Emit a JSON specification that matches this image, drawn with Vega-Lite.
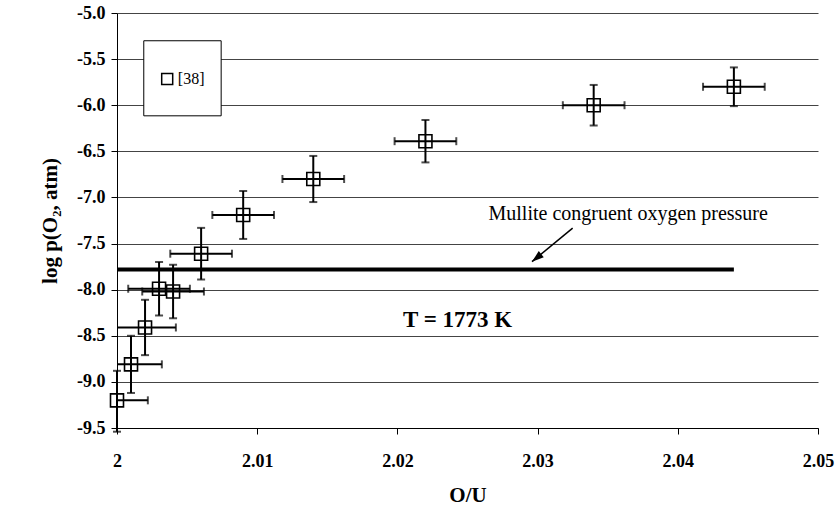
{
  "$schema": "https://vega.github.io/schema/vega-lite/v6.json",
  "width": 701,
  "height": 415,
  "autosize": "none",
  "padding": {"left": 117, "top": 13, "right": 20, "bottom": 84},
  "background": "white",
  "config": {
    "view": {"stroke": null},
    "axis": {
      "labelFont": "Liberation Serif", "labelFontWeight": "bold", "labelFontSize": 18, "labelColor": "black",
      "titleFont": "Liberation Serif", "titleFontWeight": "bold", "titleFontSize": 21, "titleColor": "black",
      "domainColor": "black", "tickColor": "black", "tickSize": 6, "domainWidth": 1, "tickWidth": 1
    }
  },
  "datasets": {
    "pts": [
      {"ou": 2.000, "lp": -9.20, "xlo": 1.9978, "xhi": 2.0022, "ylo": -9.54, "yhi": -8.88},
      {"ou": 2.001, "lp": -8.81, "xlo": 1.9988, "xhi": 2.0032, "ylo": -9.12, "yhi": -8.50},
      {"ou": 2.002, "lp": -8.41, "xlo": 1.9998, "xhi": 2.0042, "ylo": -8.71, "yhi": -8.11},
      {"ou": 2.003, "lp": -7.99, "xlo": 2.0008, "xhi": 2.0052, "ylo": -8.28, "yhi": -7.70},
      {"ou": 2.004, "lp": -8.02, "xlo": 2.0018, "xhi": 2.0062, "ylo": -8.31, "yhi": -7.73},
      {"ou": 2.006, "lp": -7.61, "xlo": 2.0038, "xhi": 2.0082, "ylo": -7.89, "yhi": -7.33},
      {"ou": 2.009, "lp": -7.19, "xlo": 2.0068, "xhi": 2.0112, "ylo": -7.45, "yhi": -6.93},
      {"ou": 2.014, "lp": -6.80, "xlo": 2.0118, "xhi": 2.0162, "ylo": -7.05, "yhi": -6.55},
      {"ou": 2.022, "lp": -6.39, "xlo": 2.0198, "xhi": 2.0242, "ylo": -6.62, "yhi": -6.16},
      {"ou": 2.034, "lp": -6.00, "xlo": 2.0318, "xhi": 2.0362, "ylo": -6.22, "yhi": -5.78},
      {"ou": 2.044, "lp": -5.80, "xlo": 2.0418, "xhi": 2.0462, "ylo": -6.01, "yhi": -5.59}
    ],
    "mullite": [{"x1": 2.0, "x2": 2.044, "y": -7.78}],
    "arrow": [{"xs": 2.0325, "ys": -7.333, "xt": 2.0296, "yt": -7.696, "xh": 2.03015, "yh": -7.629}],
    "labels": [
      {"x": 2.0265, "y": -7.244, "text": "Mullite congruent oxygen pressure", "kind": "note"},
      {"x": 2.0204, "y": -8.409, "text": "T = 1773 K", "kind": "temp"}
    ],
    "legend": [{"bx1": 2.00191, "bx2": 2.00743, "by1": -5.301, "by2": -6.115, "mx": 2.00358, "tx": 2.00434, "my": -5.717, "label": "[38]"}]
  },
  "layer": [
    {
      "data": {"name": "pts"},
      "mark": {"type": "point", "shape": "square", "size": 169, "filled": false, "stroke": "black", "strokeWidth": 1.6, "opacity": 1},
      "encoding": {
        "x": {"field": "ou", "type": "quantitative", "scale": {"domain": [2.0, 2.05], "nice": false, "zero": false},
              "axis": {"title": "O/U", "values": [2.0, 2.01, 2.02, 2.03, 2.04, 2.05], "format": ".2~f", "grid": false, "labelPadding": 18, "titlePadding": 14, "labelFlush": false}},
        "y": {"field": "lp", "type": "quantitative", "scale": {"domain": [-9.5, -5.0], "nice": false, "zero": false},
              "axis": {"title": "log p(O₂, atm)", "values": [-9.5, -9.0, -8.5, -8.0, -7.5, -7.0, -6.5, -6.0, -5.5, -5.0],
                       "labelExpr": "replace(format(datum.value, '.1f'), '\u2212', '-')", "grid": true, "gridColor": "#444444", "gridWidth": 1,
                       "labelPadding": 6, "titlePadding": 16, "labelFlush": false}}
      }
    },
    {
      "data": {"name": "pts"},
      "mark": {"type": "rule", "color": "black", "strokeWidth": 2, "clip": true},
      "encoding": {"x": {"field": "xlo", "type": "quantitative"}, "x2": {"field": "xhi"}, "y": {"field": "lp", "type": "quantitative"}}
    },
    {
      "data": {"name": "pts"},
      "mark": {"type": "tick", "orient": "vertical", "color": "black", "size": 8, "thickness": 2, "clip": true},
      "encoding": {"x": {"field": "xlo", "type": "quantitative"}, "y": {"field": "lp", "type": "quantitative"}}
    },
    {
      "data": {"name": "pts"},
      "mark": {"type": "tick", "orient": "vertical", "color": "black", "size": 8, "thickness": 2, "clip": true},
      "encoding": {"x": {"field": "xhi", "type": "quantitative"}, "y": {"field": "lp", "type": "quantitative"}}
    },
    {
      "data": {"name": "pts"},
      "mark": {"type": "rule", "color": "black", "strokeWidth": 2},
      "encoding": {"x": {"field": "ou", "type": "quantitative"}, "y": {"field": "ylo", "type": "quantitative"}, "y2": {"field": "yhi"}}
    },
    {
      "data": {"name": "pts"},
      "mark": {"type": "tick", "orient": "horizontal", "color": "black", "size": 8, "thickness": 2},
      "encoding": {"x": {"field": "ou", "type": "quantitative"}, "y": {"field": "ylo", "type": "quantitative"}}
    },
    {
      "data": {"name": "pts"},
      "mark": {"type": "tick", "orient": "horizontal", "color": "black", "size": 8, "thickness": 2},
      "encoding": {"x": {"field": "ou", "type": "quantitative"}, "y": {"field": "yhi", "type": "quantitative"}}
    },
    {
      "data": {"name": "mullite"},
      "mark": {"type": "rule", "color": "black", "strokeWidth": 4},
      "encoding": {"x": {"field": "x1", "type": "quantitative"}, "x2": {"field": "x2"}, "y": {"field": "y", "type": "quantitative"}}
    },
    {
      "data": {"name": "arrow"},
      "mark": {"type": "rule", "color": "black", "strokeWidth": 1.5},
      "encoding": {"x": {"field": "xs", "type": "quantitative"}, "x2": {"field": "xt"}, "y": {"field": "ys", "type": "quantitative"}, "y2": {"field": "yt"}}
    },
    {
      "data": {"name": "arrow"},
      "mark": {"type": "point", "shape": "M0,-1L0.4,0.2L-0.4,0.2Z", "size": 400, "filled": true, "color": "black", "opacity": 1, "angle": 231},
      "encoding": {"x": {"field": "xh", "type": "quantitative"}, "y": {"field": "yh", "type": "quantitative"}}
    },
    {
      "data": {"name": "labels"},
      "transform": [{"filter": "datum.kind == 'note'"}],
      "mark": {"type": "text", "font": "Liberation Serif", "fontSize": 20, "align": "left", "baseline": "alphabetic", "color": "black"},
      "encoding": {"x": {"field": "x", "type": "quantitative"}, "y": {"field": "y", "type": "quantitative"}, "text": {"field": "text"}}
    },
    {
      "data": {"name": "labels"},
      "transform": [{"filter": "datum.kind == 'temp'"}],
      "mark": {"type": "text", "font": "Liberation Serif", "fontSize": 23, "fontWeight": "bold", "align": "left", "baseline": "alphabetic", "color": "black"},
      "encoding": {"x": {"field": "x", "type": "quantitative"}, "y": {"field": "y", "type": "quantitative"}, "text": {"field": "text"}}
    },
    {
      "data": {"name": "legend"},
      "mark": {"type": "rect", "fill": "white", "stroke": "black", "strokeWidth": 1},
      "encoding": {"x": {"field": "bx1", "type": "quantitative"}, "x2": {"field": "bx2"}, "y": {"field": "by1", "type": "quantitative"}, "y2": {"field": "by2"}}
    },
    {
      "data": {"name": "legend"},
      "mark": {"type": "point", "shape": "square", "size": 121, "filled": false, "stroke": "black", "strokeWidth": 1.5, "opacity": 1},
      "encoding": {"x": {"field": "mx", "type": "quantitative"}, "y": {"field": "my", "type": "quantitative"}}
    },
    {
      "data": {"name": "legend"},
      "mark": {"type": "text", "font": "Liberation Serif", "fontSize": 16, "align": "left", "baseline": "middle", "color": "black"},
      "encoding": {"x": {"field": "tx", "type": "quantitative"}, "y": {"field": "my", "type": "quantitative"}, "text": {"field": "label"}}
    }
  ]
}
